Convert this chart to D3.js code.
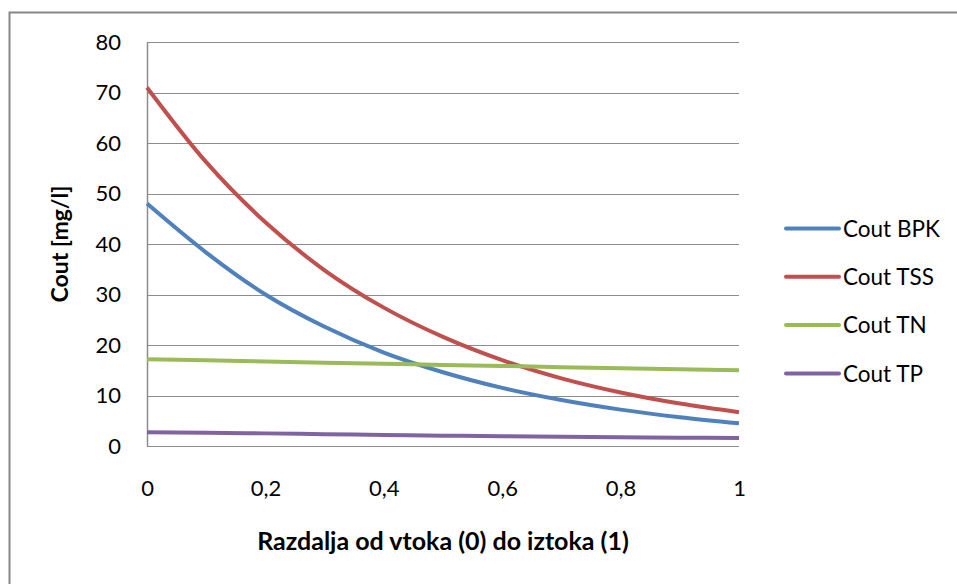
<!DOCTYPE html>
<html>
<head>
<meta charset="utf-8">
<script src="https://cdn.jsdelivr.net/npm/d3@7"></script>
<style>
  html, body { margin: 0; padding: 0; background: #fff; }
  svg { display: block; }
  text { font-family: Lato, "Open Sans", "Liberation Sans", sans-serif; fill: #000; }
</style>
</head>
<body>
<svg id="chart" width="957" height="584"></svg>
<script>
// ---- data ----
const xValues = [0, 0.1, 0.2, 0.3, 0.4, 0.5, 0.6, 0.7, 0.8, 0.9, 1];
const coutBPK = [48, 38.3, 30.0, 23.6, 18.5, 14.6, 11.5, 9.1, 7.2, 5.7, 4.5];
const coutTSS = [71, 56.2, 44.3, 34.8, 27.4, 21.6, 17.0, 13.4, 10.6, 8.4, 6.7];
const coutTN  = [17.2, 17.0, 16.75, 16.5, 16.3, 16.05, 15.85, 15.6, 15.4, 15.2, 15.0];
const coutTP  = [2.7, 2.6, 2.5, 2.35, 2.2, 2.05, 1.95, 1.85, 1.75, 1.65, 1.6];
const seriesNames = ["Cout BPK", "Cout TSS", "Cout TN", "Cout TP"];
const seriesColors = ["#4F81BD", "#C0504D", "#9BBB59", "#8064A2"];
const yTicks = [0, 10, 20, 30, 40, 50, 60, 70, 80];
const xTicks = [0, 0.2, 0.4, 0.6, 0.8, 1];
const yTitle = "Cout [mg/l]";
const xTitle = "Razdalja od vtoka (0) do iztoka (1)";

const seriesValues = [coutBPK, coutTSS, coutTN, coutTP];
const series = seriesNames.map((name, i) => ({
  name, color: seriesColors[i],
  points: xValues.map((x, j) => ({ x, y: seriesValues[i][j] }))
}));

// ---- layout ----
const svg = d3.select("#chart");
const plot = { left: 147, right: 739, top: 42, bottom: 446 };

const x = d3.scaleLinear().domain([0, 1]).range([plot.left, plot.right]);
const y = d3.scaleLinear().domain([0, 80]).range([plot.bottom, plot.top]);

// outer frame (extends beyond right/bottom of view)
svg.append("rect")
  .attr("x", 9.5).attr("y", 12.5)
  .attr("width", 1000).attr("height", 1000)
  .attr("fill", "#fff")
  .attr("stroke", "#878787").attr("stroke-width", 2);

// gridlines
svg.append("g")
  .selectAll("line")
  .data(yTicks)
  .join("line")
  .attr("x1", plot.left).attr("x2", plot.right)
  .attr("y1", d => Math.round(y(d)) + 0.5).attr("y2", d => Math.round(y(d)) + 0.5)
  .attr("stroke", "#8c8c8c").attr("stroke-width", 1.2);

// y axis
const yAxis = d3.axisLeft(y).tickValues(yTicks).tickSize(0).tickPadding(26)
  .tickFormat(d3.format("d"));
const gy = svg.append("g").attr("transform", `translate(${plot.left},0)`).call(yAxis);
gy.select(".domain").attr("stroke", "#8c8c8c").attr("stroke-width", 1.5);
gy.selectAll("text").style("font-size", "22px").attr("fill", "#000");

// x axis (labels only)
const xAxis = d3.axisBottom(x).tickValues(xTicks).tickSize(0).tickPadding(34)
  .tickFormat(d => d === 0 || d === 1 ? String(d) : String(d).replace(".", ","));
const gx = svg.append("g").attr("transform", `translate(0,${plot.bottom})`).call(xAxis);
gx.select(".domain").remove();
gx.selectAll("text").style("font-size", "22px").attr("fill", "#000");

// lines
const line = d3.line().x(d => x(d.x)).y(d => y(d.y)).curve(d3.curveMonotoneX);
svg.append("g")
  .selectAll("path")
  .data(series)
  .join("path")
  .attr("d", d => line(d.points))
  .attr("fill", "none")
  .attr("stroke", d => d.color)
  .attr("stroke-width", 4)
  .attr("stroke-linecap", "butt");

// axis titles
svg.append("text")
  .attr("transform", `translate(68,244) rotate(-90)`)
  .attr("text-anchor", "middle")
  .style("font-size", "23px").style("font-weight", "bold")
  .text(yTitle);

svg.append("text")
  .attr("x", (plot.left + plot.right) / 2).attr("y", 550)
  .attr("text-anchor", "middle")
  .style("font-size", "25px").style("font-weight", "bold")
  .text(xTitle);

// legend
const legend = svg.append("g")
  .selectAll("g")
  .data(series)
  .join("g")
  .attr("transform", (d, i) => `translate(786,${228.5 + i * 48.3})`);
legend.append("line")
  .attr("x1", 0).attr("x2", 53).attr("y1", 0).attr("y2", 0)
  .attr("stroke", d => d.color).attr("stroke-width", 4)
  .attr("stroke-linecap", "round");
legend.append("text")
  .attr("x", 57).attr("y", 0).attr("dy", "0.36em")
  .style("font-size", "22.5px")
  .text(d => d.name);
</script>
</body>
</html>
